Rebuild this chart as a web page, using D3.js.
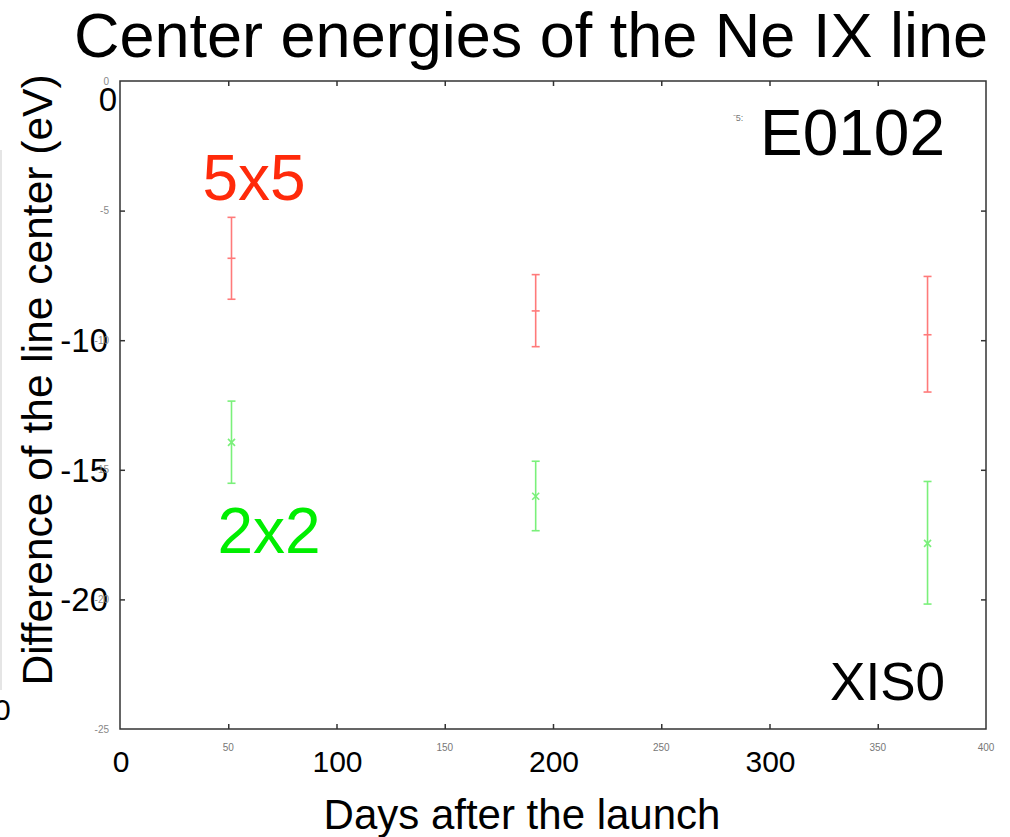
<!DOCTYPE html>
<html><head><meta charset="utf-8">
<script src="https://cdn.jsdelivr.net/npm/d3@7/dist/d3.min.js"></script>
<style>body{margin:0;background:#fff}svg{display:block}</style>
</head><body>
<script>
const days = [51.5, 192, 373];
const series = ["5x5", "2x2"];
const center5x5 = [-6.84, -8.87, -9.79];
const low5x5 = [-8.42, -10.25, -12.0];
const high5x5 = [-5.26, -7.47, -7.54];
const center2x2 = [-13.94, -16.02, -17.84];
const low2x2 = [-15.52, -17.35, -20.18];
const high2x2 = [-12.35, -14.67, -15.45];
const xSmallTicks = [50, 150, 250, 350, 400];
const xBigTicks = [0, 100, 200, 300];
const ySmallTicks = [0, -5, -10, -15, -20, -25];
const yBigTicks = [0, -10, -15, -20];
const allXTicks = [50, 100, 150, 200, 250, 300, 350];
const allYTicks = [-5, -10, -15, -20];

const W = 1010, H = 837;
const svg = d3.select("body").append("svg").attr("width", W).attr("height", H);
const x = d3.scaleLinear().domain([0, 400]).range([120, 986]);
const y = d3.scaleLinear().domain([0, -25]).range([81, 729]);

// faint artifact line at left edge
svg.append("line").attr("x1",1).attr("x2",1).attr("y1",150).attr("y2",690).attr("stroke","#ddd").attr("stroke-width",1.5);

// frame
svg.append("rect").attr("x", x(0)).attr("y", y(0)).attr("width", x(400)-x(0)).attr("height", y(-25)-y(0))
  .attr("fill","none").attr("stroke","#333").attr("stroke-width",1.5);

// ticks (inward) via d3 axes
const tk = 5;
const styleTicks = g=>{g.select(".domain").remove(); g.selectAll("line").attr("stroke","#333").attr("stroke-width",1.5);};
svg.append("g").attr("transform",`translate(0,${y(-25)})`)
  .call(d3.axisTop(x).tickValues(allXTicks).tickSize(tk).tickFormat("")).call(styleTicks);
svg.append("g").attr("transform",`translate(0,${y(0)})`)
  .call(d3.axisBottom(x).tickValues(allXTicks).tickSize(tk).tickFormat("")).call(styleTicks);
svg.append("g").attr("transform",`translate(${x(0)},0)`)
  .call(d3.axisRight(y).tickValues(allYTicks).tickSize(tk).tickFormat("")).call(styleTicks);
svg.append("g").attr("transform",`translate(${x(400)},0)`)
  .call(d3.axisLeft(y).tickValues(allYTicks).tickSize(tk).tickFormat("")).call(styleTicks);

const font = "'Liberation Sans',Arial,sans-serif";
const smallFont = "'Liberation Sans Narrow','Liberation Sans',Arial,sans-serif";

// big overlaid tick labels
svg.append("g").selectAll("text").data(yBigTicks).join("text")
  .attr("x", d=> d===0 ? 117 : 108).attr("y", d=> d===0 ? y(d)+18 : y(d)).attr("dy","0.36em").attr("text-anchor","end")
  .attr("font-family", font).attr("font-size", 33).attr("fill","#000").text(d=>d);
svg.append("g").selectAll("text").data(xBigTicks).join("text")
  .attr("x", d=>x(d)+1).attr("y", 772).attr("text-anchor","middle")
  .attr("font-family", font).attr("font-size", 30).attr("fill","#000").text(d=>d);
// artifact 0 at left edge (partly cut in the reference)
svg.append("text").attr("x",-6).attr("y",720).attr("font-family",font).attr("font-size",30).text("0");

// small gray tick labels (drawn on top, as in the reference)
svg.append("g").selectAll("text").data(ySmallTicks).join("text")
  .attr("x", 109).attr("y", d=>y(d)).attr("dy","0.35em").attr("text-anchor","end")
  .attr("font-family", smallFont).attr("font-size", 10).attr("fill","#888").text(d=>d);
svg.append("g").selectAll("text").data(xSmallTicks).join("text")
  .attr("x", d=>x(d)).attr("y", 751).attr("text-anchor","middle")
  .attr("font-family", smallFont).attr("font-size", 10).attr("fill","#777").text(d=>d);

// data
function drawSeries(c, lo, hi, color, marker){
  const g = svg.append("g").attr("stroke", color).attr("stroke-width", 1.6).attr("fill","none");
  days.forEach((d,i)=>{
    const px = x(d);
    g.append("line").attr("x1",px).attr("x2",px).attr("y1",y(lo[i])).attr("y2",y(hi[i]));
    g.append("line").attr("x1",px-4).attr("x2",px+4).attr("y1",y(lo[i])).attr("y2",y(lo[i]));
    g.append("line").attr("x1",px-4).attr("x2",px+4).attr("y1",y(hi[i])).attr("y2",y(hi[i]));
    const py = y(c[i]);
    if(marker==="+"){
      g.append("line").attr("x1",px-4).attr("x2",px+4).attr("y1",py).attr("y2",py);
    } else {
      g.append("line").attr("x1",px-3.5).attr("x2",px+3.5).attr("y1",py-3.5).attr("y2",py+3.5);
      g.append("line").attr("x1",px-3.5).attr("x2",px+3.5).attr("y1",py+3.5).attr("y2",py-3.5);
    }
  });
}
drawSeries(center5x5, low5x5, high5x5, "#ff7a7a", "+");
drawSeries(center2x2, low2x2, high2x2, "#7af07a", "x");

// labels
svg.append("text").attr("x", 254).attr("y", 200).attr("text-anchor","middle").attr("font-family",font)
  .attr("font-size", 64).attr("fill","#ff2a0a").text(series[0]);
svg.append("text").attr("x", 269).attr("y", 553).attr("text-anchor","middle").attr("font-family",font)
  .attr("font-size", 64).attr("fill","#00ee00").text(series[1]);
svg.append("text").attr("x", 945).attr("y", 155).attr("text-anchor","end").attr("font-family",font)
  .attr("font-size", 64).attr("fill","#000").text("E0102");
svg.append("text").attr("x", 945).attr("y", 700).attr("text-anchor","end").attr("font-family",font)
  .attr("font-size", 53).attr("fill","#000").text("XIS0");
svg.append("text").attr("x", 738).attr("y", 121).attr("text-anchor","middle").attr("font-family",smallFont)
  .attr("font-size", 9).attr("fill","#777").text("⁻5:");

// title and axis titles
svg.append("text").attr("x", 531).attr("y", 57).attr("text-anchor","middle").attr("font-family",font)
  .attr("font-size", 63).attr("fill","#000").text("Center energies of the Ne IX line");
svg.append("text").attr("x", 522).attr("y", 829).attr("text-anchor","middle").attr("font-family",font)
  .attr("font-size", 42).attr("fill","#000").text("Days after the launch");
svg.append("text").attr("transform","translate(52,380) rotate(-90)").attr("text-anchor","middle").attr("font-family",font)
  .attr("font-size", 42.5).attr("fill","#000").text("Difference of the line center (eV)");
</script>
</body></html>
